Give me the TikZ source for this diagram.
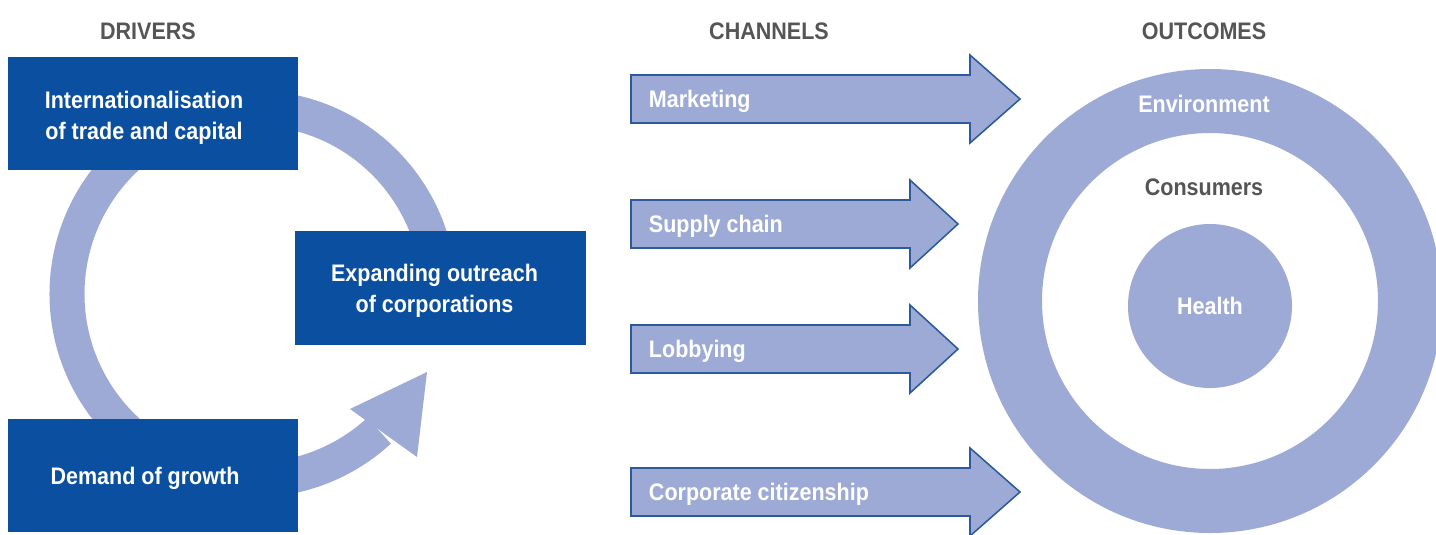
\documentclass[tikz,border=0pt]{standalone}
\usepackage{fontspec}
\setmainfont{Liberation Sans}[FakeStretch=0.9]
\usepackage{tikz}
\usetikzlibrary{calc}
\definecolor{boxblue}{HTML}{0A4FA0}
\definecolor{ringblue}{HTML}{9DAAD6}
\definecolor{arrowedge}{HTML}{2C5A9C}
\definecolor{headgray}{HTML}{555555}
\newcommand{\labelfont}{\bfseries\fontsize{17}{22}\selectfont}
\tikzset{
  driver/.style={fill=boxblue, minimum width=7.25cm, minimum height=2.825cm, inner sep=0pt},
  drvtext/.style={text=white, font=\labelfont, align=center},
  heading/.style={text=headgray, font=\labelfont},
  ring/.style={draw=ringblue, line width=0.875cm},
  channel/.style={fill=ringblue, draw=arrowedge, line width=1.1pt, line join=miter},
  chlabel/.style={anchor=west, text=white, font=\labelfont},
  outlabel/.style={text=white, font=\labelfont},
}

\begin{document}
\begin{tikzpicture}[x=0.025cm, y=-0.025cm]
    \useasboundingbox (0,0) rectangle (1436,534);

    % headings
    \node [heading] (drivers) at (148,31) {DRIVERS};
    \node [heading] (channels) at (769,31) {CHANNELS};
    \node [heading] (outcomes) at (1204,31) {OUTCOMES};

    % cycle behind the drivers
    \coordinate (cyc) at (253,294);
    \draw [ring] ($(cyc)+(10:186)$) arc [start angle=10, end angle=-240, radius=186];
    \draw [ring] ($(cyc)+(95:186)$) arc [start angle=95, end angle=47.3, radius=186];
    \fill [ringblue] (350,409) -- (427,372) -- (417,457) -- cycle;

    % drivers
    \node [driver, label={[drvtext, shift={(-9,4)}]center:{Internationalisation\\of trade and capital}}]
        (trade) at (153,113.5) {};
    \node [driver, label={[drvtext, shift={(-6,3)}]center:{Expanding outreach\\of corporations}}]
        (outreach) at (440.5,288) {};
    \node [driver, label={[drvtext, shift={(-8,3)}]center:{Demand of growth}}]
        (growth) at (153,475.5) {};

    % channels
    \foreach \n/\y/\b/\t/\txt in {mkt/99/970/1020/Marketing, sup/224/910/958/Supply chain,
        lob/349/910/958/Lobbying, cit/492/970/1020/Corporate citizenship} {
        \draw [channel] (631,\y-24) -- (\b,\y-24) -- (\b,\y-44) -- (\t,\y)
            -- (\b,\y+44) -- (\b,\y+24) -- (631,\y+24) -- cycle;
        \node [chlabel] (\n) at (644,\y+2) {\txt};
    }

    % outcomes
    \coordinate (out) at (1210,301);
    \draw [ringblue, line width=1.6cm] (out) circle [radius=200];
    \node [circle, fill=ringblue, minimum size=4.1cm, inner sep=0pt,
        font=\labelfont, text=white] (health) at (1210,306) {Health};
    \node [outlabel] (env) at (1204,104) {Environment};
    \node [heading] (cons) at (1204,187) {Consumers};
\end{tikzpicture}
\end{document}
